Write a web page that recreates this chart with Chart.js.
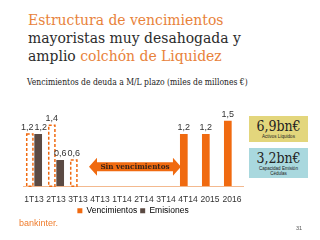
<!DOCTYPE html>
<html>
<head>
<meta charset="utf-8">
<script src="https://cdn.jsdelivr.net/npm/chart.js@4"></script>
<style>
  html, body { margin: 0; padding: 0; background: #fff; }
  body { width: 320px; height: 240px; position: relative; overflow: hidden; font-family: "DejaVu Serif", serif; }
  .title { position: absolute; left: 28px; top: 11px; font-family: "DejaVu Serif"; font-stretch: condensed; font-size: 15.5px; line-height: 18px; color: #2b2b2b; }
  .title .o { color: #e8823a; }
  .sub { position: absolute; left: 27px; top: 77px; font-family: "DejaVu Serif"; font-stretch: condensed; font-size: 8.5px; color: #222; }
  #wrap { position: absolute; left: 14px; top: 99px; width: 244px; height: 126px; }
  .box { position: absolute; left: 249px; width: 59px; text-align: center; color: #222; font-family: "DejaVu Serif"; font-stretch: condensed; }
  .box .big { font-size: 14px; line-height: 16px; }
  .box .small { font-size: 4.5px; line-height: 5px; font-family: "Liberation Sans"; }
  .b1 { top: 116px; height: 26px; background: #e3d67c; padding-top: 2px; box-sizing: border-box; }
  .b2 { top: 148px; height: 30px; background: #a9d8de; padding-top: 2px; box-sizing: border-box; }
  .logo { position: absolute; left: 19px; top: 218px; font-family: "Liberation Sans"; font-size: 9px; color: #ef7d2e; }
  .page { position: absolute; left: 296px; top: 225px; font-family: "Liberation Sans"; font-size: 5.5px; color: #555; }
</style>
</head>
<body>
<div class="title"><span class="o">Estructura de vencimientos</span><br>mayoristas muy desahogada y<br>amplio <span class="o">colchón de Liquidez</span></div>
<div class="sub">Vencimientos de deuda a M/L plazo (miles de millones €)</div>
<div id="wrap"><canvas id="chart"></canvas></div>
<div class="box b1"><div class="big">6,9bn€</div><div class="small">Activos Líquidos</div></div>
<div class="box b2"><div class="big">3,2bn€</div><div class="small">Capacidad Emisión<br>Cédulas</div></div>
<div class="logo">bankinter.</div>
<div class="page">31</div>
<script>
const categories = ['1T13', '2T13', '3T13', '4T13', '1T14', '2T14', '3T14', '4T14', '2015', '2016'];
const vencimientos = [1.2, 1.4, 0.6, null, null, null, null, 1.2, 1.2, 1.5];
const emisiones = [1.2, 0.6, null, null, null, null, null, null, null, null];
// first three maturities are already covered -> drawn with dashed outline
const dashedIdx = [0, 1, 2];

const ORANGE = '#f06a10';
const DARK = '#5b4a43';

const fmt = v => String(v).replace('.', ',');

const extras = {
    id: 'extras',
    afterDatasetsDraw(chart) {
        const ctx = chart.ctx;
        const x = chart.scales.x, y = chart.scales.y;

        // dashed outlines
        const m0 = chart.getDatasetMeta(0);
        ctx.save();
        ctx.strokeStyle = ORANGE;
        ctx.lineWidth = 1.5;
        ctx.setLineDash([3, 2]);
        dashedIdx.forEach(i => {
            const b = m0.data[i];
            const w = b.width;
            ctx.strokeRect(b.x - w / 2 + 0.75, b.y, w - 1.5, b.base - b.y);
        });
        ctx.restore();

        // value labels (nudge apart when both bars have the same height)
        ctx.save();
        ctx.font = '9px "Liberation Sans"';
        ctx.fillStyle = '#333';
        ctx.textAlign = 'center';
        ctx.textBaseline = 'bottom';
        chart.data.datasets.forEach((ds, di) => {
            chart.getDatasetMeta(di).data.forEach((b, i) => {
                if (ds.data[i] == null) return;
                let dx = 0;
                if (vencimientos[i] === emisiones[i]) dx = di === 0 ? -2.5 : 2.5;
                ctx.fillText(fmt(ds.data[i]), b.x + dx, b.y - 2);
            });
        });
        ctx.restore();

        // "Sin vencimientos" double arrow
        const step = x.getPixelForValue(1) - x.getPixelForValue(0);
        const x0 = x.getPixelForValue(3) - step / 2;
        const x1 = x.getPixelForValue(7) - step * 0.32;
        const yc = y.getPixelForValue(0.45);
        const hb = 4.5, hh = 9, hl = 8;
        ctx.save();
        ctx.fillStyle = ORANGE;
        ctx.beginPath();
        ctx.moveTo(x0, yc);
        ctx.lineTo(x0 + hl, yc - hh);
        ctx.lineTo(x0 + hl, yc - hb);
        ctx.lineTo(x1 - hl, yc - hb);
        ctx.lineTo(x1 - hl, yc - hh);
        ctx.lineTo(x1, yc);
        ctx.lineTo(x1 - hl, yc + hh);
        ctx.lineTo(x1 - hl, yc + hb);
        ctx.lineTo(x0 + hl, yc + hb);
        ctx.lineTo(x0 + hl, yc + hh);
        ctx.closePath();
        ctx.fill();
        ctx.fillStyle = '#3a2418';
        ctx.font = 'bold 8px "DejaVu Serif Condensed", "DejaVu Serif"';
        ctx.textAlign = 'center';
        ctx.textBaseline = 'middle';
        ctx.fillText('Sin vencimientos', (x0 + x1) / 2, yc + 0.5);
        ctx.restore();
    }
};

new Chart(document.getElementById('chart'), {
    type: 'bar',
    data: {
        labels: categories,
        datasets: [
            {
                label: 'Vencimientos',
                data: vencimientos,
                backgroundColor: vencimientos.map((v, i) => dashedIdx.includes(i) ? '#ffffff' : ORANGE),
                barPercentage: 0.92,
                categoryPercentage: 0.76
            },
            {
                label: 'Emisiones',
                data: emisiones,
                backgroundColor: DARK,
                barPercentage: 0.92,
                categoryPercentage: 0.76
            }
        ]
    },
    options: {
        responsive: true,
        maintainAspectRatio: false,
        animation: false,
        layout: { padding: { left: 9, right: 15, top: 0, bottom: 0 } },
        scales: {
            x: {
                grid: { display: false, drawTicks: false },
                border: { color: '#f3b98f', width: 1 },
                ticks: { color: '#333', font: { family: 'Liberation Sans', size: 8.5 }, padding: 8, maxRotation: 0, autoSkip: false },
                // pull the tick labels closer to the legend
                afterFit: scale => { scale.height -= 9; }
            },
            y: { display: false, min: 0, max: 2.0 }
        },
        plugins: {
            legend: {
                position: 'bottom',
                labels: {
                    color: '#333',
                    boxWidth: 5, boxHeight: 5,
                    padding: 3,
                    font: { family: 'Liberation Sans', size: 8.5 },
                    generateLabels: chart => [
                        { text: 'Vencimientos', fillStyle: ORANGE, strokeStyle: ORANGE, lineWidth: 0, datasetIndex: 0 },
                        { text: 'Emisiones', fillStyle: DARK, strokeStyle: DARK, lineWidth: 0, datasetIndex: 1 }
                    ]
                }
            },
            tooltip: { enabled: false }
        }
    },
    plugins: [extras]
});
</script>
</body>
</html>
